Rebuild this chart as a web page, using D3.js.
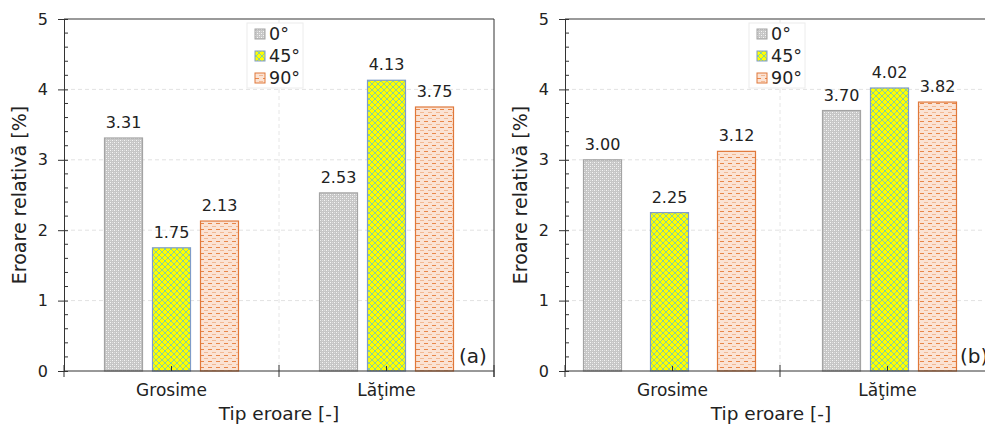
<!DOCTYPE html>
<html>
<head>
<meta charset="utf-8">
<script src="https://cdn.jsdelivr.net/npm/d3@7"></script>
<style>
  body { margin: 0; background: #fff; }
  text { font-family: "DejaVu Sans", Verdana, sans-serif; fill: #222; }
</style>
</head>
<body>
<div id="chart"></div>
<script>
// data
var categories = ["Grosime", "Lăţime"];
var series = ["0°", "45°", "90°"];
var valuesA = [[3.31, 1.75, 2.13], [2.53, 4.13, 3.75]];
var valuesB = [[3.00, 2.25, 3.12], [3.70, 4.02, 3.82]];
var yTicks = [0, 1, 2, 3, 4, 5];

var svgWidth = 985, svgHeight = 425;
var top0 = 19, bottom0 = 371;

var svg = d3.select("#chart").append("svg")
    .attr("width", svgWidth)
    .attr("height", svgHeight);

// hatch patterns
var defs = svg.append("defs");

var p0 = defs.append("pattern").attr("id", "pat0").attr("width", 4).attr("height", 4)
    .attr("patternUnits", "userSpaceOnUse");
p0.append("rect").attr("width", 4).attr("height", 4).attr("fill", "#c6c6c6");
p0.append("rect").attr("x", 0).attr("y", 0).attr("width", 1).attr("height", 1).attr("fill", "#f6f6f6");
p0.append("rect").attr("x", 2).attr("y", 2).attr("width", 1).attr("height", 1).attr("fill", "#f6f6f6");
p0.append("rect").attr("x", 2).attr("y", 0).attr("width", 1).attr("height", 1).attr("fill", "#dcdcdc");
p0.append("rect").attr("x", 0).attr("y", 2).attr("width", 1).attr("height", 1).attr("fill", "#dcdcdc");

var p1 = defs.append("pattern").attr("id", "pat1").attr("width", 6).attr("height", 6)
    .attr("patternUnits", "userSpaceOnUse");
p1.append("rect").attr("width", 6).attr("height", 6).attr("fill", "#ffff00");
p1.append("path").attr("d", "M0,0L6,6M6,0L0,6M-1,5L1,7M5,-1L7,1M-1,1L1,-1M5,7L7,5")
    .attr("stroke", "#6cc4c0").attr("stroke-width", 0.8);

var p2 = defs.append("pattern").attr("id", "pat2").attr("width", 8).attr("height", 6)
    .attr("patternUnits", "userSpaceOnUse");
p2.append("rect").attr("width", 8).attr("height", 6).attr("fill", "#fbe3d4");
p2.append("rect").attr("x", 0).attr("y", 1).attr("width", 4).attr("height", 1).attr("fill", "#e8874a");
p2.append("rect").attr("x", 4).attr("y", 4).attr("width", 4).attr("height", 1).attr("fill", "#f2b892");

var fills = ["url(#pat0)", "url(#pat1)", "url(#pat2)"];
var strokes = ["#a4a4a4", "#7f9cc8", "#e0783a"];

function drawPanel(values, x0, x1, tag, barSteps, shifts, titleX, legendX) {
    var g = svg.append("g");
    var y = d3.scaleLinear().domain([0, 5]).range([bottom0, top0]);
    var x = d3.scaleBand().domain(categories).range([x0, x1]).padding(0);

    // grid
    g.selectAll(".grid").data(yTicks.slice(1, 5)).enter().append("line")
        .attr("x1", x0).attr("x2", Math.min(x1, svgWidth))
        .attr("y1", d => y(d)).attr("y2", d => y(d))
        .attr("stroke", "#e2e2e2").attr("stroke-dasharray", "4,3");
    g.append("line")
        .attr("x1", x(categories[1])).attr("x2", x(categories[1]))
        .attr("y1", top0).attr("y2", bottom0)
        .attr("stroke", "#e6e6e6").attr("stroke-dasharray", "4,3");

    // bars
    categories.forEach(function (c, ci) {
        var cx = x(c) + x.bandwidth() / 2 + shifts[ci];
        var step = barSteps[ci];
        var inner = d3.scaleBand().domain(series)
            .range([cx - step * 1.5, cx + step * 1.5]).paddingInner(0.2).paddingOuter(0.1);
        series.forEach(function (s, si) {
            var v = values[ci][si];
            var bx = inner(s) + inner.bandwidth() / 2 - 19;
            g.append("rect")
                .attr("x", bx).attr("y", y(v))
                .attr("width", 38).attr("height", y(0) - y(v))
                .attr("fill", fills[si]).attr("stroke", strokes[si]).attr("stroke-width", 1.2);
            g.append("text")
                .attr("x", bx + 19).attr("y", y(v) - 10)
                .attr("text-anchor", "middle").attr("font-size", "16px")
                .text(v.toFixed(2));
        });
    });

    // frame: grey top, dark right
    g.append("line").attr("x1", x0).attr("x2", x1).attr("y1", top0).attr("y2", top0)
        .attr("stroke", "#9a9a9a").attr("stroke-width", 2);
    g.append("line").attr("x1", x1).attr("x2", x1).attr("y1", top0).attr("y2", bottom0 + 6)
        .attr("stroke", "#333").attr("stroke-width", 1);

    // y axis
    var yAxis = d3.axisLeft(y).tickValues(yTicks).tickSize(6).tickPadding(10).tickFormat(d3.format("d"));
    var ya = g.append("g").attr("transform", "translate(" + x0 + ",0)").call(yAxis);
    ya.select(".domain").attr("stroke", "#333");
    ya.selectAll(".tick line").attr("stroke", "#333").attr("x2", -6).attr("x1", 4);
    ya.selectAll(".tick text").attr("font-size", "16px").attr("font-family", "DejaVu Sans").attr("fill", "#222");
    var minor = d3.range(0.2, 5, 0.2).filter(v => Math.abs(v - Math.round(v)) > 0.01);
    g.selectAll(".ymin").data(minor).enter().append("line")
        .attr("x1", x0).attr("x2", x0 + 4)
        .attr("y1", d => y(d)).attr("y2", d => y(d))
        .attr("stroke", "#333");

    // x axis
    g.append("line").attr("x1", x0).attr("x2", x1).attr("y1", bottom0).attr("y2", bottom0)
        .attr("stroke", "#333");
    var bounds = [x0, x(categories[1]), x1];
    g.selectAll(".xt").data(bounds).enter().append("line")
        .attr("x1", d => d).attr("x2", d => d)
        .attr("y1", bottom0 - 6).attr("y2", bottom0 + 6)
        .attr("stroke", "#333");
    g.selectAll(".xm").data(categories).enter().append("line")
        .attr("x1", d => x(d) + x.bandwidth() / 2).attr("x2", d => x(d) + x.bandwidth() / 2)
        .attr("y1", bottom0 - 5).attr("y2", bottom0)
        .attr("stroke", "#333");
    g.selectAll(".xl").data(categories).enter().append("text")
        .attr("x", d => x(d) + x.bandwidth() / 2).attr("y", 396)
        .attr("text-anchor", "middle").attr("font-size", "17px")
        .text(d => d);

    // titles
    g.append("text").attr("x", titleX).attr("y", 420)
        .attr("text-anchor", "middle").attr("font-size", "18.5px")
        .text("Tip eroare [-]");
    g.append("text")
        .attr("transform", "translate(" + (x0 - 38) + "," + ((top0 + bottom0) / 2) + ") rotate(-90)")
        .attr("text-anchor", "middle").attr("font-size", "19px")
        .text("Eroare relativă [%]");
    g.append("text").attr("x", x1 - 35).attr("y", 363)
        .attr("font-size", "20px").text(tag);

    // legend
    var lg = g.append("g").attr("transform", "translate(" + legendX + ",23)");
    lg.append("rect").attr("width", 56).attr("height", 65)
        .attr("fill", "#fff").attr("stroke", "#ececec");
    series.forEach(function (s, si) {
        lg.append("rect").attr("x", 8).attr("y", 6 + si * 22).attr("width", 10).attr("height", 10)
            .attr("fill", fills[si]).attr("stroke", strokes[si]);
        lg.append("text").attr("x", 22).attr("y", 17 + si * 22)
            .attr("font-size", "17.5px").text(s);
    });
}

drawPanel(valuesA, 64, 494, "(a)", [48, 48], [0, 0], 279, 247);
drawPanel(valuesB, 565, 995, "(b)", [67, 48], [-3, 2], 771, 749);
</script>
</body>
</html>
